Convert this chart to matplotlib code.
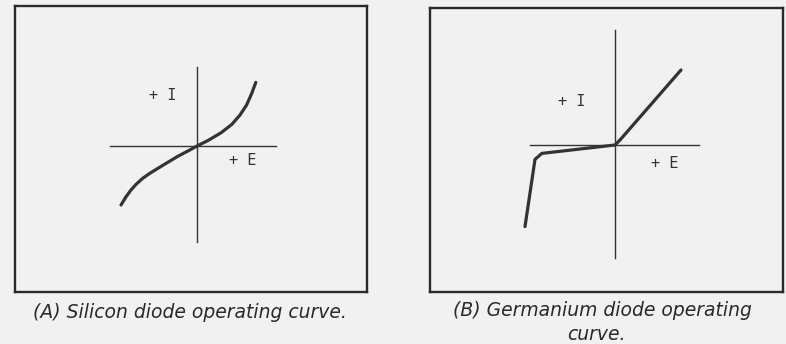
import matplotlib
matplotlib.use("Agg")
import matplotlib.pyplot as plt

# Silicon diode curve (E, I) in arbitrary units, origin at axes crossing
si_E = [-1.9, -1.775, -1.65, -1.525, -1.36, -1.19, -0.98, -0.775, -0.475, -0.18, 0.0,
        0.28, 0.6, 0.87, 1.075, 1.24, 1.37, 1.47]
si_I = [-1.475, -1.27, -1.1, -0.96, -0.81, -0.69, -0.56, -0.435, -0.255, -0.1, 0.0,
        0.14, 0.33, 0.54, 0.775, 1.025, 1.32, 1.59]

# Germanium diode curve
ge_E = [-2.25, -2.00, -1.83, 0.0, 0.125, 1.65]
ge_I = [-2.04, -0.36, -0.21, 0.0, 0.125, 1.875]

captions = ["(A) Silicon diode operating curve.", "(B) Germanium diode operating", "curve."]
label_I = "+ I"
label_E = "+ E"

W, H = 786, 344
bg = "#f1f1f1"
ink = "#333333"
fig = plt.figure(figsize=(W / 100, H / 100), dpi=100, facecolor=bg)

unit = 40.0  # pixels per data unit

def make_axes(left, right, top, bottom, ox, oy):
    ax = fig.add_axes([left / W, (H - bottom) / H, (right - left) / W, (bottom - top) / H])
    ax.set_facecolor(bg)
    ax.set_xlim((left - ox) / unit, (right - ox) / unit)
    ax.set_ylim((oy - bottom) / unit, (oy - top) / unit)
    ax.set_xticks([]); ax.set_yticks([])
    for s in ax.spines.values():
        s.set_linewidth(1.7)
        s.set_color("#2a2a2a")
    return ax

lab_kw = dict(fontsize=11, color=ink, ha="center", va="center", family="DejaVu Sans Mono")

# Panel A
axA = make_axes(15, 367, 6, 292, 197, 146)
axA.plot([-2.175, 1.975], [0, 0], color=ink, lw=1.0)
axA.plot([0, 0], [-2.4, 1.975], color=ink, lw=1.0)
axA.plot(si_E, si_I, color=ink, lw=2.3, solid_capstyle="round", solid_joinstyle="round")
axA.text(-0.85, 1.27, label_I, **lab_kw)
axA.text(1.15, -0.36, label_E, **lab_kw)

# Panel B
axB = make_axes(430, 783, 8, 292, 615, 145)
axB.plot([-2.125, 2.1], [0, 0], color=ink, lw=1.0)
axB.plot([0, 0], [-2.825, 2.875], color=ink, lw=1.0)
axB.plot(ge_E, ge_I, color=ink, lw=2.3, solid_capstyle="round", solid_joinstyle="round")
axB.text(-1.08, 1.08, label_I, **lab_kw)
axB.text(1.25, -0.45, label_E, **lab_kw)

cap_kw = dict(fontsize=13.5, style="italic", color="#2a2a2a", ha="center", va="center",
              family="DejaVu Sans")
fig.text(190 / W, 1 - 312 / H, captions[0], **cap_kw)
fig.text(602 / W, 1 - 311 / H, captions[1], **cap_kw)
fig.text(596 / W, 1 - 335 / H, captions[2], **cap_kw)

fig.savefig("out.png", dpi=100, facecolor=bg)
